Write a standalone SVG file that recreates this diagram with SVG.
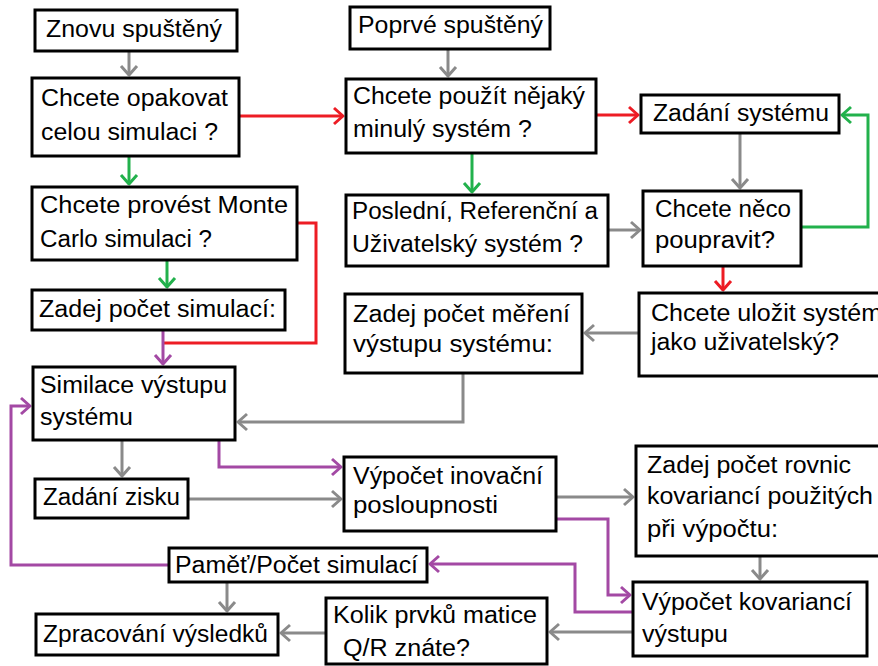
<svg xmlns="http://www.w3.org/2000/svg" width="878" height="666" viewBox="0 0 878 666">
<style>
.box{fill:#fff;stroke:#000;stroke-width:3}
.t{font-family:"Liberation Sans",Arial,sans-serif;font-size:23px;fill:#000}
.c{fill:none;stroke-width:3;stroke-linejoin:miter}
.g{stroke:#8a8a8a}.r{stroke:#ed1c24}.gr{stroke:#22b14c}.p{stroke:#a349a4}
</style>
<defs>
<marker id="ag" markerUnits="userSpaceOnUse" markerWidth="20" markerHeight="20" refX="11" refY="10" orient="auto" overflow="visible"><path d="M2,2 L11,10 L2,18" fill="none" stroke="#8a8a8a" stroke-width="3" stroke-linejoin="round"/></marker>
<marker id="ar" markerUnits="userSpaceOnUse" markerWidth="20" markerHeight="20" refX="11" refY="10" orient="auto" overflow="visible"><path d="M2,2 L11,10 L2,18" fill="none" stroke="#ed1c24" stroke-width="3" stroke-linejoin="round"/></marker>
<marker id="agr" markerUnits="userSpaceOnUse" markerWidth="20" markerHeight="20" refX="11" refY="10" orient="auto" overflow="visible"><path d="M2,2 L11,10 L2,18" fill="none" stroke="#22b14c" stroke-width="3" stroke-linejoin="round"/></marker>
<marker id="ap" markerUnits="userSpaceOnUse" markerWidth="20" markerHeight="20" refX="11" refY="10" orient="auto" overflow="visible"><path d="M2,2 L11,10 L2,18" fill="none" stroke="#a349a4" stroke-width="3" stroke-linejoin="round"/></marker>
</defs>
<rect width="878" height="666" fill="#fff"/>
<g id="connectors">
<path class="c g" d="M129,51 V75" marker-end="url(#ag)"/>
<path class="c g" d="M448,49 V76" marker-end="url(#ag)"/>
<path class="c g" d="M740,133 V188" marker-end="url(#ag)"/>
<path class="c g" d="M608,230 H640" marker-end="url(#ag)"/>
<path class="c g" d="M639,333 H585" marker-end="url(#ag)"/>
<path class="c g" d="M463,373 V422 H238" marker-end="url(#ag)"/>
<path class="c g" d="M122,440 V476" marker-end="url(#ag)"/>
<path class="c g" d="M188,499 H341" marker-end="url(#ag)"/>
<path class="c g" d="M556,497 H633" marker-end="url(#ag)"/>
<path class="c g" d="M760,556 V579" marker-end="url(#ag)"/>
<path class="c g" d="M633,632 H550" marker-end="url(#ag)"/>
<path class="c g" d="M326,633 H281" marker-end="url(#ag)"/>
<path class="c g" d="M227,582 V611" marker-end="url(#ag)"/>
<path class="c r" d="M239,116 H343" marker-end="url(#ar)"/>
<path class="c r" d="M596,115 H638" marker-end="url(#ar)"/>
<path class="c r" d="M297,223 H316 V343 H163"/>
<path class="c r" d="M723,266 V290" marker-end="url(#ar)"/>
<path class="c gr" d="M129,156 V184" marker-end="url(#agr)"/>
<path class="c gr" d="M472,153 V192" marker-end="url(#agr)"/>
<path class="c gr" d="M167,260 V287" marker-end="url(#agr)"/>
<path class="c gr" d="M801,227 H868 V115 H842" marker-end="url(#agr)"/>
<path class="c p" d="M163,330 V364" marker-end="url(#ap)"/>
<path class="c p" d="M219,440 V467 H341" marker-end="url(#ap)"/>
<path class="c p" d="M556,519 H608 V595 H630" marker-end="url(#ap)"/>
<path class="c p" d="M633,612 H575 V564 H430" marker-end="url(#ap)"/>
<path class="c p" d="M169,565 H11 V406 H30" marker-end="url(#ap)"/>
</g>
<g id="znovu"><rect class="box" x="35" y="10" width="202" height="41"/><text class="t" x="46" y="37" textLength="176" lengthAdjust="spacingAndGlyphs">Znovu spuštěný</text></g>
<g id="opakovat"><rect class="box" x="32" y="78" width="207" height="78"/><text class="t" x="41" y="106" textLength="187" lengthAdjust="spacingAndGlyphs">Chcete opakovat</text><text class="t" x="41" y="140" textLength="177" lengthAdjust="spacingAndGlyphs">celou simulaci ?</text></g>
<g id="poprve"><rect class="box" x="350" y="7" width="200" height="42"/><text class="t" x="358" y="33" textLength="185" lengthAdjust="spacingAndGlyphs">Poprvé spuštěný</text></g>
<g id="pouzit"><rect class="box" x="346" y="79" width="250" height="74"/><text class="t" x="353" y="104" textLength="232" lengthAdjust="spacingAndGlyphs">Chcete použít nějaký</text><text class="t" x="353" y="137" textLength="179" lengthAdjust="spacingAndGlyphs">minulý systém ?</text></g>
<g id="zadani-systemu"><rect class="box" x="641" y="95" width="198" height="38"/><text class="t" x="653" y="121" textLength="176" lengthAdjust="spacingAndGlyphs">Zadání systému</text></g>
<g id="poupravit"><rect class="box" x="643" y="191" width="158" height="75"/><text class="t" x="655" y="217" textLength="136" lengthAdjust="spacingAndGlyphs">Chcete něco</text><text class="t" x="655" y="248" textLength="120" lengthAdjust="spacingAndGlyphs">poupravit?</text></g>
<g id="ulozit"><rect class="box" x="639" y="293" width="251" height="83"/><text class="t" x="651" y="321" textLength="231" lengthAdjust="spacingAndGlyphs">Chcete uložit systém</text><text class="t" x="651" y="350" textLength="188" lengthAdjust="spacingAndGlyphs">jako uživatelský?</text></g>
<g id="monte-carlo"><rect class="box" x="32" y="187" width="265" height="73"/><text class="t" x="40" y="213" textLength="248" lengthAdjust="spacingAndGlyphs">Chcete provést Monte</text><text class="t" x="40" y="247" textLength="172" lengthAdjust="spacingAndGlyphs">Carlo simulaci ?</text></g>
<g id="pocet-simulaci"><rect class="box" x="32" y="290" width="253" height="40"/><text class="t" x="39" y="317" textLength="237" lengthAdjust="spacingAndGlyphs">Zadej počet simulací:</text></g>
<g id="similace"><rect class="box" x="33" y="367" width="202" height="73"/><text class="t" x="40" y="393" textLength="187" lengthAdjust="spacingAndGlyphs">Similace výstupu</text><text class="t" x="40" y="425" textLength="93" lengthAdjust="spacingAndGlyphs">systému</text></g>
<g id="posledni"><rect class="box" x="346" y="195" width="262" height="71"/><text class="t" x="352" y="219" textLength="246" lengthAdjust="spacingAndGlyphs">Poslední, Referenční a</text><text class="t" x="352" y="252" textLength="231" lengthAdjust="spacingAndGlyphs">Uživatelský systém ?</text></g>
<g id="mereni"><rect class="box" x="345" y="294" width="237" height="79"/><text class="t" x="353" y="322" textLength="217" lengthAdjust="spacingAndGlyphs">Zadej počet měření</text><text class="t" x="353" y="352" textLength="200" lengthAdjust="spacingAndGlyphs">výstupu systému:</text></g>
<g id="inovacni"><rect class="box" x="344" y="457" width="212" height="74"/><text class="t" x="353" y="484" textLength="190" lengthAdjust="spacingAndGlyphs">Výpočet inovační</text><text class="t" x="353" y="513" textLength="145" lengthAdjust="spacingAndGlyphs">posloupnosti</text></g>
<g id="rovnic"><rect class="box" x="636" y="446" width="254" height="110"/><text class="t" x="647" y="473" textLength="204" lengthAdjust="spacingAndGlyphs">Zadej počet rovnic</text><text class="t" x="647" y="504" textLength="226" lengthAdjust="spacingAndGlyphs">kovariancí použitých</text><text class="t" x="647" y="537" textLength="131" lengthAdjust="spacingAndGlyphs">při výpočtu:</text></g>
<g id="zisk"><rect class="box" x="35" y="479" width="153" height="39"/><text class="t" x="43" y="505" textLength="137" lengthAdjust="spacingAndGlyphs">Zadání zisku</text></g>
<g id="pamet"><rect class="box" x="169" y="548" width="258" height="34"/><text class="t" x="175" y="573" textLength="243" lengthAdjust="spacingAndGlyphs">Paměť/Počet simulací</text></g>
<g id="zpracovani"><rect class="box" x="36" y="614" width="242" height="41"/><text class="t" x="43" y="642" textLength="225" lengthAdjust="spacingAndGlyphs">Zpracování výsledků</text></g>
<g id="kolik"><rect class="box" x="326" y="598" width="221" height="66"/><text class="t" x="333" y="623" textLength="204" lengthAdjust="spacingAndGlyphs">Kolik prvků matice</text><text class="t" x="343" y="656" textLength="127" lengthAdjust="spacingAndGlyphs">Q/R znáte?</text></g>
<g id="kovariance"><rect class="box" x="633" y="582" width="234" height="74"/><text class="t" x="642" y="610" textLength="210" lengthAdjust="spacingAndGlyphs">Výpočet kovariancí</text><text class="t" x="642" y="642" textLength="86" lengthAdjust="spacingAndGlyphs">výstupu</text></g>
</svg>
